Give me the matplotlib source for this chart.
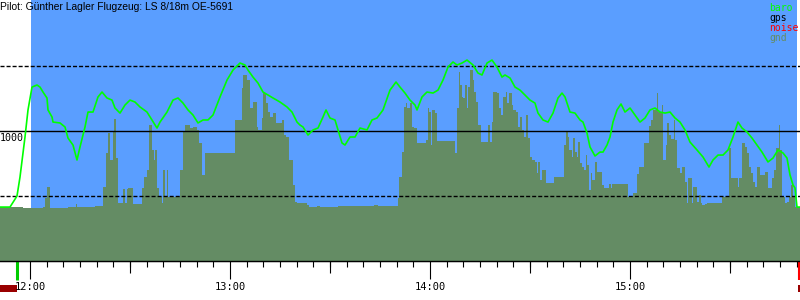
import matplotlib
matplotlib.use("Agg")
import matplotlib.pyplot as plt
import numpy as np

# times are minutes after 12:00, altitudes in metres
baro_t = [-9.0, -6.0, -3.9, -3.0, -1.5, -0.6, 0.6, 2.1, 3.0, 3.9, 5.1, 5.4, 6.6, 6.9, 9.0, 10.5,
          11.4, 12.9, 14.1, 15.0, 16.5, 17.4, 18.9, 20.4, 21.6, 23.1, 24.6, 25.5, 27.0, 28.5,
          30.0, 31.5, 33.0, 35.1, 36.6, 38.1, 39.0, 41.1, 42.9, 44.4, 45.9, 47.4, 48.9, 50.4,
          51.9, 53.4, 54.9, 57.0, 59.1, 60.9, 63.0, 64.5, 65.4, 66.9, 68.4, 69.9, 71.4, 72.9,
          75.0, 77.1, 78.6, 80.1, 81.0, 81.9, 83.4, 84.9, 86.4, 87.9, 88.8, 90.0, 91.5, 92.4,
          93.6, 94.5, 96.0, 97.5, 99.0, 101.1, 102.6, 104.1, 105.9, 108.0, 109.8, 111.0, 112.5,
          114.0, 115.5, 116.1, 117.6, 119.1, 120.9, 122.4, 123.9, 125.4, 126.9, 128.1, 129.6,
          131.1, 132.9, 134.4, 135.6, 137.1, 138.6, 140.1, 141.6, 142.5, 144.0, 145.5, 147.0,
          148.5, 150.0, 151.5, 152.4, 153.9, 155.4, 156.9, 158.4, 159.6, 160.5, 162.0, 163.5,
          165.0, 165.9, 167.1, 168.0, 169.5, 171.0, 171.9, 173.1, 174.0, 174.9, 176.1, 177.3,
          178.5, 180.0, 181.5, 183.0, 184.5, 186.0, 187.5, 189.0, 190.5, 192.0, 193.5, 195.0,
          196.5, 198.0, 200.1, 201.9, 203.7, 204.9, 206.4, 207.9, 209.4, 210.9, 212.4, 213.6,
          215.1, 216.6, 218.1, 219.6, 221.4, 222.9, 224.4, 225.9, 227.1, 228.0, 228.9, 229.5,
          230.1, 231.0]
baro_alt = [415, 415, 500, 646, 954, 1162, 1338, 1354, 1338, 1300, 1254, 1162, 1108, 1069, 1062, 1031,
            946, 892, 777, 877, 1031, 1146, 1146, 1262, 1300, 1254, 1238, 1177, 1138, 1200,
            1238, 1223, 1185, 1146, 1085, 1023, 1069, 1146, 1238, 1254, 1215, 1162, 1123, 1062,
            1085, 1085, 1123, 1262, 1392, 1469, 1523, 1508, 1469, 1415, 1369, 1300, 1277, 1254,
            1223, 1185, 1146, 1069, 1046, 1031, 969, 1008, 1023, 1108, 1162, 1100, 1085, 1008,
            908, 892, 954, 954, 1023, 1008, 1085, 1100, 1162, 1315, 1377, 1338, 1292,
            1238, 1200, 1162, 1262, 1300, 1292, 1315, 1392, 1492, 1531, 1508, 1523,
            1546, 1508, 1446, 1431, 1523, 1546, 1492, 1415, 1431, 1408, 1338, 1315,
            1277, 1238, 1215, 1138, 1085, 1069, 1138, 1254, 1292, 1262, 1146, 1138,
            1085, 1069, 985, 877, 808, 838, 838, 892, 954, 1069, 1162, 1208,
            1146, 1177, 1123, 1069, 1100, 1162, 1177, 1146, 1138, 1146, 1100, 1069,
            1008, 915, 854, 800, 723, 777, 815, 815, 854, 954, 1069, 1023,
            992, 946, 892, 838, 762, 792, 854, 831, 792, 662, 585, 562,
            415, 415]

# ground profile, step starts
gnd_t = [-9.0, -2.0, 4.0, 4.5, 5.2, 6.0, 11.5, 13.8, 14.2, 19.5,
         22.0, 22.8, 23.5, 24.0, 24.8, 25.2, 25.8, 26.3, 27.8, 28.5,
         29.0, 29.5, 31.0, 33.5, 34.2, 35.0, 35.7, 36.5, 37.2, 37.6,
         38.2, 38.8, 39.5, 40.0, 40.5, 41.0, 41.5, 45.0, 46.0, 46.5,
         48.0, 49.0, 50.0, 50.8, 51.5, 52.5, 61.5, 63.5, 64.0, 65.0,
         66.0, 67.0, 68.0, 68.5, 69.5, 70.0, 70.8, 71.5, 72.0, 73.0,
         73.8, 75.5, 76.3, 76.8, 77.8, 78.8, 79.5, 80.2, 83.0, 83.8,
         86.0, 87.0, 92.5, 103.2, 104.5, 110.3, 110.8, 111.5, 112.2, 112.8,
         113.2, 114.0, 114.5, 115.2, 116.0, 118.8, 119.3, 119.8, 120.3, 120.7,
         121.6, 122.0, 127.5, 128.0, 128.6, 129.0, 129.5, 130.0, 130.5, 131.0,
         131.5, 132.0, 132.8, 133.2, 133.8, 134.5, 135.3, 137.5, 138.0, 138.5,
         139.0, 140.0, 140.7, 141.2, 142.0, 142.7, 143.2, 143.7, 144.5, 145.0,
         145.7, 146.3, 147.0, 147.5, 148.2, 148.8, 149.5, 150.0, 150.7, 151.5,
         152.0, 152.5, 153.0, 153.5, 154.7, 157.2, 160.2, 160.8, 161.3, 161.8,
         162.5, 163.0, 163.5, 164.0, 164.5, 165.0, 165.5, 166.2, 166.8, 167.2,
         167.8, 168.2, 168.7, 169.5, 170.2, 171.5, 172.2, 173.6, 174.2, 174.6,
         179.5, 181.0, 182.0, 182.8, 184.3, 185.7, 186.3, 187.0, 188.0, 188.3,
         189.5, 190.0, 190.7, 191.2, 191.7, 192.3, 193.2, 193.5, 194.2, 195.0,
         195.7, 196.5, 197.0, 197.5, 198.5, 199.0, 200.2, 200.8, 201.2, 201.7,
         202.5, 203.0, 207.5, 209.7, 210.2, 212.5, 212.8, 213.7, 214.5, 215.2,
         215.8, 216.3, 216.8, 217.5, 218.2, 219.0, 220.5, 221.3, 222.7, 223.2,
         223.8, 224.8, 225.0, 225.7, 226.5, 227.0, 227.6, 228.2, 229.0, 229.5]
gnd_alt = [415, 408, 415, 485, 569, 408, 415, 438, 415, 423,
           569, 831, 985, 777, 992, 1092, 792, 446, 554, 446,
           554, 562, 438, 562, 646, 700, 1046, 854, 777, 854,
           562, 492, 446, 700, 492, 700, 492, 700, 992, 1046,
           1023, 1031, 1008, 908, 662, 831, 1085, 1331, 1431, 1392,
           1177, 1223, 1031, 1008, 1100, 1292, 1215, 1146, 1108, 1138,
           1062, 1085, 969, 954, 777, 585, 454, 446, 431, 415,
           423, 415, 423, 431, 423, 485, 646, 838, 1185, 1215,
           1177, 1215, 1031, 1023, 908, 931, 1177, 1146, 892, 1162,
           1138, 923, 831, 1177, 1454, 1354, 1262, 1254, 1354, 1177,
           1338, 1469, 1392, 1300, 1223, 1046, 915, 1046, 915, 1069,
           1300, 1292, 1177, 1123, 1262, 1300, 1215, 1292, 1200, 1162,
           1146, 1031, 1108, 1008, 954, 1123, 946, 800, 777, 762,
           677, 762, 623, 700, 600, 646, 892, 992, 954, 854,
           800, 946, 838, 800, 915, 754, 723, 700, 815, 738,
           546, 677, 623, 762, 685, 585, 562, 592, 562, 592,
           492, 523, 669, 723, 908, 1038, 1085, 1162, 1292, 1146,
           1200, 777, 892, 1062, 969, 938, 1085, 931, 715, 677,
           723, 608, 446, 638, 446, 569, 454, 508, 446, 431,
           438, 446, 492, 869, 638, 569, 638, 908, 877, 831,
           723, 677, 608, 569, 723, 662, 685, 562, 638, 700,
           869, 1046, 854, 492, 446, 454, 492, 585, 492, 415]
gnd_end = 231.0

t_min, t_max = -9.0, 231.0
alt_top = 2008
log_start, log_end = 0.3, 230.2      # recorded flight (blue)
start_mark = -3.9                    # green marker
land_mark = 230.7                    # red marker

hour_ticks = [0, 60, 120, 180]
hour_labels = ["12:00", "13:00", "14:00", "15:00"]
half_ticks = [30, 90, 150, 210]

title = "Pilot: Günther Lagler Flugzeug: LS 8/18m OE-5691"
legend_items = [("baro", "#00ff00"), ("gps", "black"), ("noise", "#ff0000"), ("gnd", "#648c64")]

SKY = "#5a9eff"
GND = "#648c64"

fig = plt.figure(figsize=(8, 3), dpi=100)
ax = fig.add_axes([0, 39 / 300, 1, 261 / 300])
ax.set_xlim(t_min, t_max)
ax.set_ylim(0, alt_top)

ax.axvspan(log_start, log_end, color=SKY, lw=0, zorder=0)
edges = list(gnd_t) + [gnd_end]
ax.stairs(gnd_alt, edges, baseline=0, fill=True, color=GND, lw=0, zorder=1)

ax.axhline(1000, color="black", lw=1.0, zorder=2)
for lvl in (500, 1500):
    ax.axhline(lvl, color="black", lw=1.0, ls=(0, (2.9, 1.45)), zorder=2)

ax.plot(baro_t, baro_alt, color="#00ff00", lw=1.2, zorder=3)

ax.text(0.0, 985, "1000", transform=ax.get_yaxis_transform(), ha="left", va="top",
        family="DejaVu Sans Mono", fontsize=7.2, color="black", zorder=4)

# ticks
for s in ("top", "left", "right"):
    ax.spines[s].set_visible(False)
ax.spines["bottom"].set_linewidth(1.0)
ax.set_yticks([])
ax.set_xticks(hour_ticks, labels=hour_labels)
ax.set_xticks(np.arange(0, 231, 5), minor=True)
ax.tick_params(axis="x", which="major", length=13, width=0.8, pad=2,
               labelsize=7.5, direction="out")
ax.tick_params(axis="x", which="minor", length=4.3, width=0.8, direction="out")
for lab in ax.get_xticklabels():
    lab.set_family("DejaVu Sans Mono")
sec = ax.secondary_xaxis("bottom")
sec.set_xticks(half_ticks, labels=[])
sec.tick_params(length=8.6, width=0.8)

# takeoff / landing markers below the axis
xt = ax.get_xaxis_transform()
ax.plot([start_mark, start_mark], [0, -0.073], transform=xt, color="#00cc00", lw=2.2,
        clip_on=False, solid_capstyle="butt")
ax.plot([land_mark, land_mark], [0, -0.073], transform=xt, color="#ff0000", lw=1.5,
        clip_on=False, solid_capstyle="butt")
ax.fill_between([t_min, start_mark], -0.092, -0.119, transform=xt, color="#990000",
                lw=0, clip_on=False)
ax.fill_between([land_mark - 0.3, t_max], -0.092, -0.119, transform=xt, color="#990000",
                lw=0, clip_on=False)

fig.text(0.0, 0.992, title, ha="left", va="top", family="Liberation Sans", fontsize=7.4)
for i, (name, col) in enumerate(legend_items):
    fig.text(769 / 800, 1 - (3 + 10 * i) / 300, name, ha="left", va="top",
             family="DejaVu Sans Mono", fontsize=7, color=col)

fig.savefig("out.png", dpi=100)
